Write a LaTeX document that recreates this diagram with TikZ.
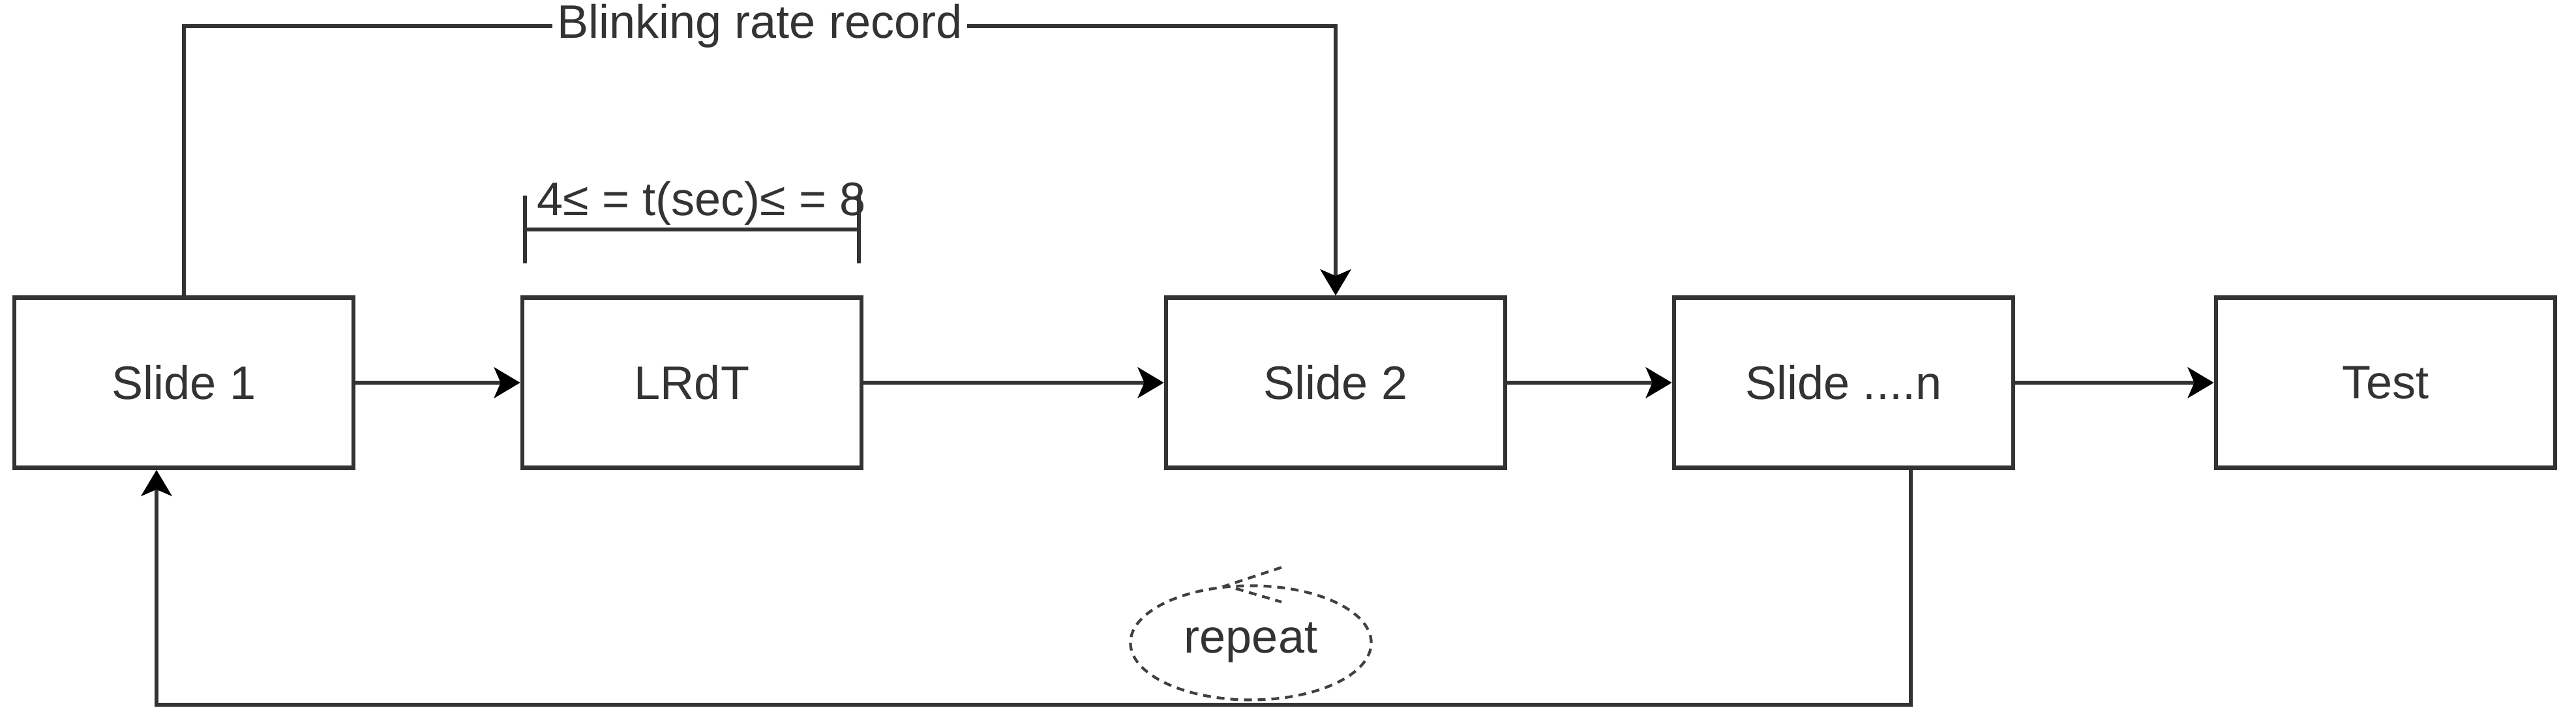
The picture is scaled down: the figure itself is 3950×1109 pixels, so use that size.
\documentclass[tikz,border=0pt]{standalone}
\usepackage{fontspec}
\setmainfont{Liberation Sans}
\usetikzlibrary{arrows.meta,shapes.geometric}
\newcommand{\etcdots}{....}
\tikzstyle{slide}=[rectangle,draw=black!80,line width=1.8pt,minimum width=5.2cm,minimum height=2.61cm,inner sep=0pt,text=black!80,font=\fontsize{20.5}{24}\selectfont]
\tikzstyle{edge} = [draw,black!80,line width=1.8pt,-{Stealth[length=0.4cm,width=0.47cm,inset=0.1cm,black]}]
\tikzstyle{wire} = [draw,black!80,line width=1.8pt]
\tikzstyle{note} = [font=\fontsize{20.5}{24}\selectfont,text=black!80]
\tikzstyle{repeatloop} = [ellipse,draw=black!75,line width=1.2pt,dash pattern=on 0.12cm off 0.09cm,minimum width=3.69cm,minimum height=1.75cm,inner sep=0pt]

\begin{document}
\begin{tikzpicture}[x=0.01cm,y=-0.01cm]
	\useasboundingbox (0,0) rectangle (3950,1109);
	% First we draw the slides
	\foreach \pos/\name/\txt in {{(282,587)/s1/Slide 1}, {(1061,587)/lrdt/LRdT}, {(2048,587)/s2/Slide 2},
								{(2827,587)/sn/Slide \etcdots n}, {(3658,587)/test/Test}}
	\node[slide] (\name) at \pos {\txt};

	% Connect slides with arrows
	\foreach \source/ \dest in {s1/lrdt, lrdt/s2, s2/sn, sn/test}
	\path[edge] (\source) -- (\dest);

	% Blinking rate record on top
	\coordinate (up) at (0,40);
	\path[edge] (s1.north) -- (s1.north |- up) -- node[note,fill=white,inner sep=2pt] {Blinking rate record} (s2.north |- up) -- (s2.north);

	% Time range above LRdT
	\coordinate (bl) at (802,352);
	\coordinate (br) at (1320,352);
	\path[wire,{Bar[width=1.04cm]}-{Bar[width=1.04cm]}] (bl) -- (br);
	\node[note,anchor=base west,inner sep=0pt] (range) at (823,330) {4≤ = t(sec)≤ = 8};

	% Repeat back to the first slide
	\coordinate (low) at (0,1081);
	\coordinate (snout) at (2930,0);
	\coordinate (s1in) at (240,0);
	\path[edge] (sn.south -| snout) -- (snout |- low) -- (s1in |- low) -- (s1.south -| s1in);
	\node[repeatloop,note] (repeat) at (1918,986) {repeat};
	\draw[black!75,line width=1.2pt,dash pattern=on 0.12cm off 0.09cm] ([shift={(47,-26)}]repeat.north) -- ([shift={(-38,2)}]repeat.north) -- ([shift={(47,27)}]repeat.north);
\end{tikzpicture}
\end{document}
